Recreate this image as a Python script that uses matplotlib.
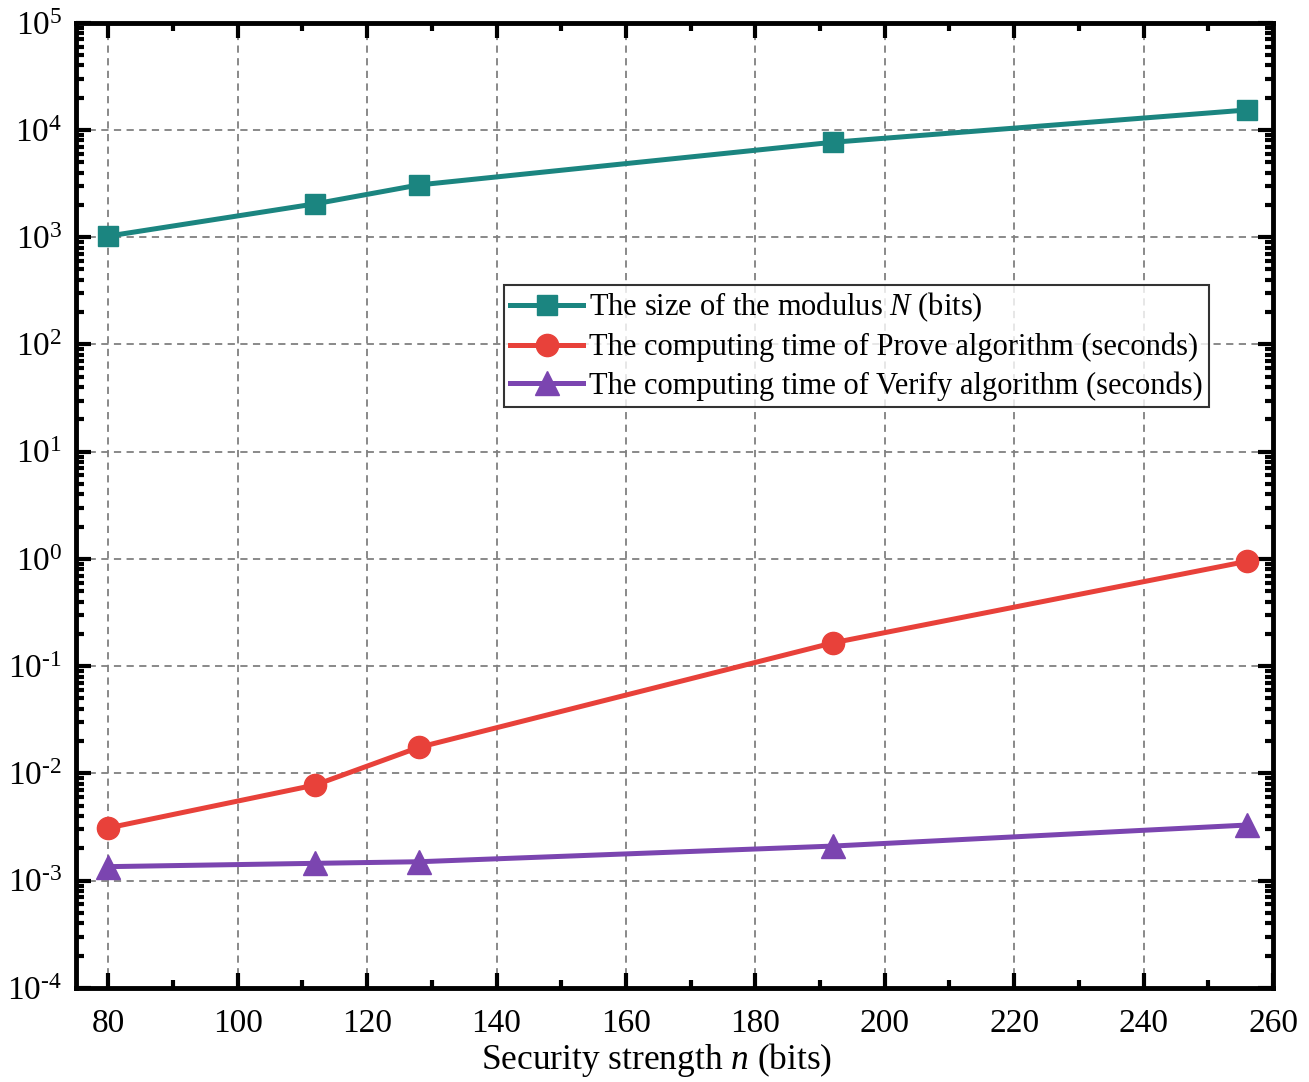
import matplotlib.pyplot as plt
from matplotlib.ticker import LogLocator, MultipleLocator, NullFormatter, FuncFormatter
import math

# security strength n (bits)
strength = [80, 112, 128, 192, 256]
modulus_bits = [1024, 2048, 3072, 7680, 15360]
prove_time = [0.0031, 0.0078, 0.0175, 0.165, 0.95]
verify_time = [0.00135, 0.00145, 0.0015, 0.0021, 0.0033]

labels = [
    "The size of the modulus $\\mathit{N}$ (bits)",
    "The computing time of Prove algorithm (seconds)",
    "The computing time of Verify algorithm (seconds)",
]

plt.rcParams['font.family'] = ['Liberation Serif', 'DejaVu Serif']
plt.rcParams['mathtext.fontset'] = 'custom'
plt.rcParams['mathtext.it'] = 'Liberation Serif:italic'
plt.rcParams['mathtext.rm'] = 'Liberation Serif'


def pot10(v, pos):
    e = int(round(math.log10(v)))
    if e < 0:
        return "$\\mathregular{10^{\u2010" + str(-e) + "}}$"
    return "$\\mathregular{10^{" + str(e) + "}}$"


def grafico():
    fig = plt.figure(figsize=(13.09, 10.82), dpi=100)
    ax = fig.add_axes([0.058, 0.087, 0.9145, 0.892])

    ax.plot(strength, modulus_bits, color="#1b8580", linewidth=3.6,
            marker="s", markersize=15, label=labels[0], zorder=3)
    ax.plot(strength, prove_time, color="#e8413a", linewidth=3.6,
            marker="o", markersize=16, label=labels[1], zorder=3)
    ax.plot(strength, verify_time, color="#7b45b0", linewidth=3.6,
            marker="^", markersize=17, label=labels[2], zorder=3)

    ax.set_yscale("log")
    ax.set_xlim(75, 260)
    ax.set_ylim(1e-4, 1e5)
    ax.xaxis.set_major_locator(MultipleLocator(20))
    ax.xaxis.set_minor_locator(MultipleLocator(10))
    ax.yaxis.set_major_locator(LogLocator(base=10, numticks=20))
    ax.yaxis.set_major_formatter(FuncFormatter(pot10))
    ax.yaxis.set_minor_locator(LogLocator(base=10, subs=range(2, 10), numticks=20))
    ax.yaxis.set_minor_formatter(NullFormatter())

    ax.tick_params(which="both", direction="in", top=True, right=True,
                   width=3, labelsize=24)
    ax.tick_params(which="major", length=11)
    ax.tick_params(axis="x", which="major", pad=15)
    ax.tick_params(axis="y", which="major", pad=10)
    ax.tick_params(which="minor", length=6)
    for s in ax.spines.values():
        s.set_linewidth(3.5)

    ax.grid(True, which="major", linestyle=(0, (4, 3)), color="#808080", linewidth=1.3)
    ax.set_xlabel("Security strength $\\mathit{n}$ (bits)", fontsize=25.5, labelpad=1)
    ax.xaxis.label.set_x(0.485)

    leg = ax.legend(loc="upper left", bbox_to_anchor=(0.3575, 0.7285), fontsize=22,
                    frameon=True, fancybox=False, edgecolor="black",
                    borderpad=0.2, labelspacing=0.28, handlelength=2.4,
                    handletextpad=0.2, borderaxespad=0)
    leg.get_frame().set_linewidth(1.5)

    fig.savefig("out.png", dpi=100)


def main():
    grafico()


if __name__ == "__main__":
    main()
